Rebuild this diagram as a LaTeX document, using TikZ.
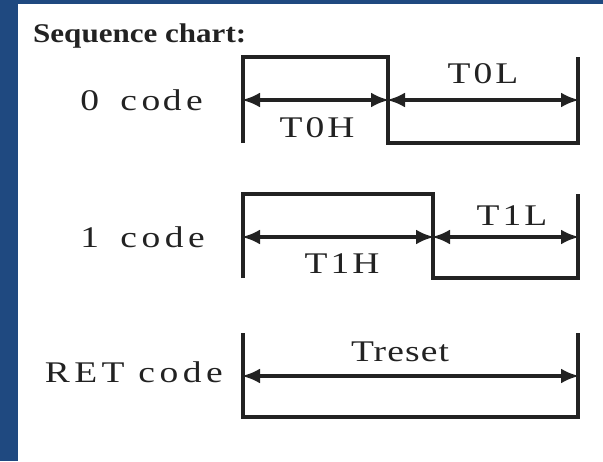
\documentclass[tikz,border=0pt]{standalone}
\usepackage{fontspec}
\usepackage{graphicx}
\setmainfont{Liberation Serif}
\usetikzlibrary{arrows.meta}
\definecolor{frameblue}{RGB}{31,73,128}
\definecolor{ink}{RGB}{34,34,34}
\newcommand{\wider}[2]{\scalebox{#1}[1]{#2}}
\tikzset{
  wave/.style={draw=ink, line width=3.2pt, line join=miter},
  dim/.style={draw=ink, line width=3.4pt, {Latex[length=18pt,width=15pt]}-{Latex[length=18pt,width=15pt]}, shorten <=-1pt, shorten >=-1pt},
  rowlbl/.style={anchor=base east, inner sep=0pt, text=ink, font=\fontsize{30}{34}\selectfont\addfontfeatures{LetterSpace=12}},
  tlbl/.style={anchor=base, inner sep=0pt, text=ink, font=\fontsize{30}{34}\selectfont\addfontfeatures{LetterSpace=8}},
}
\begin{document}
\begin{tikzpicture}[x=1pt,y=-1pt]
\useasboundingbox (0,0) rectangle (603,461);
\fill[frameblue] (0,0) rectangle (603,461);
\fill[white] (18,4) rectangle (603,461);
% title
\node[anchor=base west, inner sep=0pt, text=ink, font=\fontsize{27}{32}\selectfont\bfseries] (title) at (33,42) {\wider{1.15}{Sequence chart:}};
% ---- 0 code
\coordinate (a0) at (243,100);
\coordinate (b0) at (388,100);
\coordinate (c0) at (578,100);
\draw[wave] (243,143) -- (243,57) -- (388,57) -- (388,143) -- (578,143) -- (578,57);
\draw[dim] (a0) -- (b0);
\draw[dim] (b0) -- (c0);
\node[rowlbl] (l0) at (203,110) {\wider{1.25}{0\hspace{6pt} co\hspace{2pt}de}};
\node[tlbl] (t0h) at (317,137) {\wider{1.25}{T0H}};
\node[tlbl] (t0l) at (483,83) {\wider{1.25}{T0L}};
% ---- 1 code
\coordinate (a1) at (243,237);
\coordinate (b1) at (433,237);
\coordinate (c1) at (578,237);
\draw[wave] (243,278) -- (243,194) -- (433,194) -- (433,278) -- (578,278) -- (578,194);
\draw[dim] (a1) -- (b1);
\draw[dim] (b1) -- (c1);
\node[rowlbl] (l1) at (205,247) {\wider{1.25}{1\hspace{6pt} code}};
\node[tlbl] (t1h) at (342,273) {\wider{1.25}{T1H}};
\node[tlbl] (t1l) at (512,225) {\wider{1.25}{T1L}};
% ---- RET code
\coordinate (a2) at (243,376);
\coordinate (c2) at (578,376);
\draw[wave] (243,333) -- (243,417) -- (578,417) -- (578,333);
\draw[dim] (a2) -- (c2);
\node[rowlbl] (l2) at (223,382) {\wider{1.25}{RET code}};
\node[tlbl, font=\fontsize{30}{34}\selectfont\addfontfeatures{LetterSpace=3}] (tr) at (400,361) {\wider{1.25}{Treset}};
\end{tikzpicture}
\end{document}
